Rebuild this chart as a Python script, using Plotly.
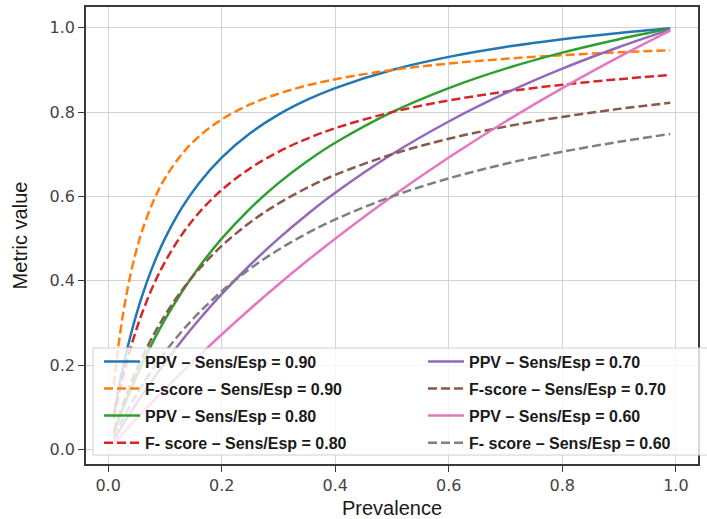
import plotly.graph_objects as go

prevalence = [0.01, 0.02, 0.03, 0.04, 0.05, 0.06, 0.08, 0.10, 0.13, 0.16, 0.20,
              0.25, 0.30, 0.35, 0.40, 0.50, 0.60, 0.70, 0.80, 0.90, 0.99]

ppv_90 = [0.0833, 0.1552, 0.2177, 0.2727, 0.3214, 0.3649, 0.4390, 0.5000, 0.5735, 0.6316, 0.6923,
          0.7500, 0.7941, 0.8289, 0.8571, 0.9000, 0.9310, 0.9545, 0.9730, 0.9878, 0.9989]
f_90 = [0.1525, 0.2648, 0.3506, 0.4186, 0.4737, 0.5193, 0.5901, 0.6429, 0.7006, 0.7423, 0.7826,
        0.8182, 0.8437, 0.8630, 0.8780, 0.9000, 0.9152, 0.9265, 0.9351, 0.9418, 0.9469]
ppv_80 = [0.0388, 0.0755, 0.1101, 0.1429, 0.1739, 0.2034, 0.2581, 0.3077, 0.3741, 0.4324, 0.5000,
          0.5714, 0.6316, 0.6829, 0.7273, 0.8000, 0.8571, 0.9032, 0.9412, 0.9730, 0.9975]
f_80 = [0.0740, 0.1380, 0.1936, 0.2425, 0.2857, 0.3243, 0.3903, 0.4444, 0.5098, 0.5614, 0.6154,
        0.6666, 0.7059, 0.7368, 0.7619, 0.8000, 0.8276, 0.8485, 0.8649, 0.8781, 0.8879]
ppv_70 = [0.0230, 0.0455, 0.0673, 0.0886, 0.1094, 0.1296, 0.1687, 0.2059, 0.2585, 0.3077, 0.3684,
          0.4375, 0.5000, 0.5568, 0.6087, 0.7000, 0.7778, 0.8448, 0.9032, 0.9545, 0.9957]
f_70 = [0.0445, 0.0854, 0.1228, 0.1573, 0.1892, 0.2187, 0.2719, 0.3182, 0.3776, 0.4275, 0.4828,
        0.5385, 0.5833, 0.6202, 0.6512, 0.7000, 0.7368, 0.7656, 0.7887, 0.8077, 0.8221]
ppv_60 = [0.0149, 0.0297, 0.0443, 0.0588, 0.0732, 0.0874, 0.1154, 0.1429, 0.1831, 0.2222, 0.2727,
          0.3333, 0.3913, 0.4468, 0.5000, 0.6000, 0.6923, 0.7778, 0.8571, 0.9310, 0.9933]
f_60 = [0.0291, 0.0566, 0.0825, 0.1071, 0.1305, 0.1526, 0.1936, 0.2308, 0.2806, 0.3243, 0.3750,
        0.4286, 0.4737, 0.5122, 0.5455, 0.6000, 0.6429, 0.6774, 0.7059, 0.7297, 0.7481]

series_names = [
    "PPV – Sens/Esp = 0.90", "F-score – Sens/Esp = 0.90",
    "PPV – Sens/Esp = 0.80", "F- score – Sens/Esp = 0.80",
    "PPV – Sens/Esp = 0.70", "F-score – Sens/Esp = 0.70",
    "PPV – Sens/Esp = 0.60", "F- score – Sens/Esp = 0.60",
]
series_values = [ppv_90, f_90, ppv_80, f_80, ppv_70, f_70, ppv_60, f_60]
colors = ["#1f77b4", "#ff7f0e", "#2ca02c", "#d62728",
          "#9467bd", "#8c564b", "#e377c2", "#7f7f7f"]
dashed = [False, True, False, True, False, True, False, True]

fig = go.Figure()
for i, (name, vals) in enumerate(zip(series_names, series_values)):
    fig.add_trace(go.Scatter(
        x=prevalence, y=vals, mode="lines", name=name,
        line=dict(color=colors[i], width=2.5, shape="spline",
                  dash="9px,4px" if dashed[i] else "solid"),
        legend="legend" if i < 4 else "legend2",
        legendgroup=f"g{i}",
    ))

W, H = 707, 519
ml, mr, mt, mb = 86, 9, 7, 55
pw, ph = W - ml - mr, H - mt - mb

def px_x(x):
    return (x - ml) / pw

def px_y(y):
    return (H - mb - y) / ph

legend_font = dict(family="Liberation Sans, Arial, sans-serif", size=16,
                   color="#1a1a1a", weight="bold")
common_legend = dict(
    orientation="v", xanchor="left", yanchor="top",
    bgcolor="rgba(0,0,0,0)", borderwidth=0,
    font=legend_font, traceorder="grouped", tracegroupgap=3.3,
    itemwidth=36,
)

fig.update_layout(
    width=W, height=H,
    margin=dict(l=ml, r=mr, t=mt, b=mb, autoexpand=False),
    paper_bgcolor="white", plot_bgcolor="white",
    showlegend=True,
    legend=dict(x=px_x(99), y=px_y(344.5), **common_legend),
    legend2=dict(x=px_x(423), y=px_y(344.5), **common_legend),
    shapes=[dict(
        type="rect", xref="paper", yref="paper",
        x0=px_x(93), x1=px_x(712), y0=px_y(455), y1=px_y(348),
        fillcolor="rgba(255,255,255,0.8)", line=dict(color="#d0d0d0", width=1),
        layer="above",
    )],
)

tick_font = dict(family="DejaVu Sans, sans-serif", size=16, color="#444444")
title_font = dict(family="Liberation Sans, Arial, sans-serif", size=20, color="#1a1a1a")

fig.update_xaxes(
    range=[-0.039, 1.039], tickvals=[0.0, 0.2, 0.4, 0.6, 0.8, 1.0],
    ticktext=["0.0", "0.2", "0.4", "0.6", "0.8", "1.0"],
    showgrid=True, gridcolor="#d3d3d3", gridwidth=1, zeroline=False,
    showline=True, mirror=True, linecolor="#3a3a3a", linewidth=1.5,
    ticks="outside", ticklen=6, tickcolor="#3a3a3a", tickwidth=1.2,
    tickfont=tick_font,
    title=dict(text="Prevalence", font=title_font, standoff=15),
)
fig.update_yaxes(
    range=[-0.0344, 1.0493], tickvals=[0.0, 0.2, 0.4, 0.6, 0.8, 1.0],
    ticktext=["0.0", "0.2", "0.4", "0.6", "0.8", "1.0"],
    showgrid=True, gridcolor="#d3d3d3", gridwidth=1, zeroline=False,
    showline=True, mirror=True, linecolor="#3a3a3a", linewidth=1.5,
    ticks="outside", ticklen=6, tickcolor="#3a3a3a", tickwidth=1.2,
    tickfont=tick_font,
    title=dict(text="Metric value", font=title_font, standoff=17),
)

fig.write_html("out.html",
               config={"displayModeBar": False},
               post_script="document.body.style.margin='0';document.body.style.overflow='hidden';")
